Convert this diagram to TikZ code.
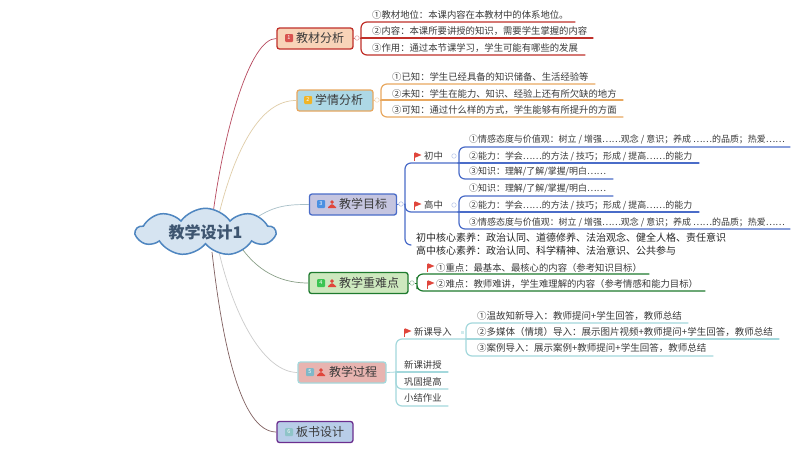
\documentclass[tikz,border=0pt]{standalone}
\usepackage{fontspec}
\setmainfont{Noto Sans CJK SC}
\usetikzlibrary{shapes.symbols}
\definecolor{txt}{HTML}{3A3A3A}
\definecolor{rd}{HTML}{C0302A}
\definecolor{og}{HTML}{E8A860}
\definecolor{bl}{HTML}{4A6CC8}
\definecolor{gn}{HTML}{1E7A2E}
\definecolor{te}{HTML}{A4D8DC}
\definecolor{pu}{HTML}{6B2F8F}
\definecolor{flagc}{HTML}{E0463C}
\definecolor{rootb}{HTML}{4F86C0}
\definecolor{rootf}{HTML}{D6E4F1}
\definecolor{roott}{HTML}{3E5570}
\definecolor{fa}{HTML}{F8D4B8}
\definecolor{fb}{HTML}{ADD8E6}
\definecolor{fc}{HTML}{C5C5E0}
\definecolor{fd}{HTML}{CDE8BE}
\definecolor{fe}{HTML}{E8B4B0}
\definecolor{ff}{HTML}{B8CDE8}
\definecolor{la}{HTML}{B84A60}
\definecolor{lb}{HTML}{E0CDA8}
\definecolor{lc}{HTML}{A8C0C8}
\definecolor{ld}{HTML}{8AA088}
\definecolor{le}{HTML}{CCCCCC}
\definecolor{lf}{HTML}{806060}
\definecolor{ba}{HTML}{D9534F}
\definecolor{bb}{HTML}{F0B429}
\definecolor{bc}{HTML}{4A90E2}
\definecolor{bd}{HTML}{3CC453}
\definecolor{be}{HTML}{7FB8C8}
\definecolor{bf}{HTML}{8FC4C8}
\newcommand{\personat}[1]{\fill[flagc] (#1) ++(0,-1.9) circle (1.9) (#1) ++(-4,4) -- ++(0,-1.5) to[out=-90,in=180] ++(4,-2.3) to[out=0,in=-90] ++(4,2.3) -- ++(0,1.5) -- cycle;}
\newcommand{\flagat}[1]{\draw[line width=.7pt,flagc] (#1) ++(-3.5,-3.5) -- ++(0,8); \fill[flagc] (#1) ++(-3.2,-3.8) -- ++(6.7,2.8) -- ++(-6.7,2.8) -- cycle;}
\tikzset{
  mainbox/.style={draw=#1,rounded corners=2.5pt,line width=1.3pt,minimum height=21pt,inner sep=0},
  mainlab/.style={anchor=west,inner sep=0,text=txt,font=\fontsize{12}{12}\selectfont},
  badge/.style={fill=#1,rounded corners=1pt,minimum size=8pt,inner sep=0,text=white,font=\fontsize{5.5}{5.5}\selectfont},
  item/.style={anchor=west,inner sep=0,text=txt,font=\fontsize{9.35}{9.35}\selectfont},
  itemb/.style={anchor=west,inner sep=0,text=txt,font=\fontsize{8.95}{8.95}\selectfont},
  core/.style={anchor=west,inner sep=0,text=black!85,font=\fontsize{10}{10}\selectfont},
  hub/.style={circle,draw=#1,fill=white,line width=.6pt,minimum size=4.5pt,inner sep=0},
  ln/.style={draw=#1,line width=1.2pt,line cap=round},
  rootlink/.style={draw=#1,line width=.7pt}
}
\begin{document}
\begin{tikzpicture}[x=1pt,y=-1pt]
\useasboundingbox[fill=white] (0,0) rectangle (800,450);
% root connectors first
\coordinate (r1) at (213,214);
\coordinate (r2) at (219,214);
\coordinate (r3) at (256,218);
\coordinate (r4) at (243,250);
\coordinate (r5) at (219,252);
\coordinate (r6) at (212,252);
% main boxes
\node[mainbox=rd,fill=fa,minimum width=76pt] (n1) at (315,38.5) {};
\node[mainbox=og,fill=fb,minimum width=76pt] (n2) at (335,100.5) {};
\node[mainbox=bl,fill=fc,minimum width=87pt] (n3) at (353,204.5) {};
\node[mainbox=gn,fill=fd,minimum width=99pt] (n4) at (358.5,283) {};
\node[mainbox=te,fill=fe,minimum width=88pt] (n5) at (342,372.5) {};
\node[mainbox=pu,fill=ff,minimum width=76pt] (n6) at (315,432) {};
\draw[rootlink=la] (r1) .. controls (224,130) and (250,38) .. (n1.west);
\draw[rootlink=lb] (r2) .. controls (235,150) and (260,100) .. (n2.west);
\draw[rootlink=lc] (r3) .. controls (275,205) and (290,204.5) .. (n3.west);
\draw[rootlink=ld] (r4) .. controls (262,275) and (285,283) .. (n4.west);
\draw[rootlink=le] (r5) .. controls (235,320) and (265,372) .. (n5.west);
\draw[rootlink=lf] (r6) .. controls (222,340) and (240,432) .. (n6.west);
% root
\node[cloud,cloud puffs=9,cloud puff arc=110,aspect=3.4,draw=rootb,fill=rootf,line width=1.5pt,minimum width=139pt,minimum height=43pt,inner sep=0,text=roott,font=\bfseries\fontsize{16}{16}\selectfont] (root) at (205.5,232) {教学设计1};
% badges and labels
\node[badge=ba] (b1) at (289,38) {1};
\node[mainlab] (l1) at (296,38) {教材分析};
\node[badge=bb] (b2) at (308,100) {2};
\node[mainlab] (l2) at (315,100) {学情分析};
\node[badge=bc] (b3) at (321,204) {3};
\personat{332,204}
\node[mainlab] (l3) at (339,204) {教学目标};
\node[badge=bd] (b4) at (321,283) {4};
\personat{332,283}
\node[mainlab] (l4) at (339,283) {教学重难点};
\node[badge=be] (b5) at (310,372) {5};
\personat{321,372}
\node[mainlab] (l5) at (329,372) {教学过程};
\node[badge=bf] (b6) at (289,432) {6};
\node[mainlab] (l6) at (296,432) {板书设计};
% branch 1
\coordinate (a1) at (575,22); \coordinate (a2) at (593,38); \coordinate (a3) at (585,55);
\coordinate (ax) at (361,38);
\draw[ln=rd,rounded corners=6pt] (a1) -| (ax) |- (a3);
\draw[ln=rd] (ax) -- (a2);
\node[hub=rd!40] (h1) at (357,38) {};
\draw[rd,line width=.8pt] (n1.east) -- (h1);
\draw[rd,line width=.8pt] (h1) -- (ax);
\node[item] (t11) at (372,15) {①教材地位：本课内容在本教材中的体系地位。};
\node[item] (t12) at (372,31.5) {②内容：本课所要讲授的知识，需要学生掌握的内容};
\node[item] (t13) at (372,48) {③作用：通过本节课学习，学生可能有哪些的发展};
% branch 2
\coordinate (c1) at (595,84); \coordinate (c2) at (623,100); \coordinate (c3) at (623,117);
\coordinate (cx) at (381,100);
\draw[ln=og,rounded corners=6pt] (c1) -| (cx) |- (c3);
\draw[ln=og] (cx) -- (c2);
\node[hub=og!40] (h2) at (377,100) {};
\draw[og,line width=.8pt] (n2.east) -- (h2);
\draw[og,line width=.8pt] (h2) -- (cx);
\node[item] (t21) at (392,77) {①已知：学生已经具备的知识储备、生活经验等};
\node[item] (t22) at (392,94) {②未知：学生在能力、知识、经验上还有所欠缺的地方};
\node[item] (t23) at (392,110) {③可知：通过什么样的方式，学生能够有所提升的方面};
% branch 3
\coordinate (d1) at (458,163); \coordinate (d2) at (458,212); \coordinate (d3) at (411,245);
\coordinate (dx) at (405,204);
\draw[ln=bl,rounded corners=6pt] (d1) -| (dx) |- (d3);
\draw[ln=bl,rounded corners=6pt] (dx) |- (d2);
\node[hub=bl!40] (h3) at (401,204) {};
\draw[bl,line width=.8pt] (n3.east) -- (h3);
\draw[bl,line width=.8pt] (h3) -- (dx);
\flagat{418,156}
\node[item] (t31) at (424,156) {初中};
\flagat{418,205}
\node[item] (t32) at (424,205) {高中};
\node[hub=bl!35] (h31) at (454,156) {};
\node[hub=bl!35] (h32) at (454,205) {};
% sub 1
\coordinate (e1) at (790,147); \coordinate (e2) at (699,163); \coordinate (e3) at (613,179);
\coordinate (ex) at (459,163);
\draw[ln=bl,rounded corners=6pt] (e1) -| (ex) |- (e3);
\draw[ln=bl] (d1) -- (e2);
\node[itemb] (s11) at (469,139) {①情感态度与价值观：树立 / 增强……观念 / 意识；养成 ……的品质；热爱……};
\node[itemb] (s12) at (469,156) {②能力：学会……的方法 / 技巧；形成 / 提高……的能力};
\node[itemb] (s13) at (469,172) {③知识：理解/了解/掌握/明白……};
% sub 2
\coordinate (f1) at (613,196); \coordinate (f2) at (699,212); \coordinate (f3) at (790,229);
\coordinate (fx) at (459,212);
\draw[ln=bl,rounded corners=6pt] (f1) -| (fx) |- (f3);
\draw[ln=bl] (d2) -- (f2);
\node[itemb] (s21) at (469,189) {①知识：理解/了解/掌握/明白……};
\node[itemb] (s22) at (469,205) {②能力：学会……的方法 / 技巧；形成 / 提高……的能力};
\node[itemb] (s23) at (469,222) {③情感态度与价值观：树立 / 增强……观念 / 意识；养成 ……的品质；热爱……};
\node[core] (k1) at (416,238) {初中核心素养：政治认同、道德修养、法治观念、健全人格、责任意识};
\node[core] (k2) at (416,251) {高中核心素养：政治认同、科学精神、法治意识、公共参与};
% branch 4
\coordinate (g1) at (649,274); \coordinate (g2) at (705,291);
\coordinate (gx) at (417,283);
\draw[ln=gn,rounded corners=6pt] (g1) -| (gx) |- (g2);
\node[hub=gn!40] (h4) at (412,283) {};
\draw[gn,line width=.8pt] (n4.east) -- (h4);
\draw[gn,line width=.8pt] (h4) -- (gx);
\flagat{431,267}
\node[item] (t41) at (436,267.5) {①重点：最基本、最核心的内容（参考知识目标）};
\flagat{431,284}
\node[item] (t42) at (436,284) {②难点：教师难讲，学生难理解的内容（参考情感和能力目标）};
% branch 5
\coordinate (hx) at (396,372);
\coordinate (j1) at (466,339); \coordinate (j2) at (448,372); \coordinate (j3) at (448,389); \coordinate (j4) at (448,406);
\draw[te,line width=.8pt] (n5.east) -- (hx);
\draw[ln=te,rounded corners=6pt] (j1) -| (hx) |- (j4);
\draw[ln=te] (hx) -- (j2);
\draw[ln=te,rounded corners=6pt] (hx) |- (j3);
\flagat{408,332}
\node[item] (t51) at (414,332) {新课导入};
\node[item] (t52) at (404,365) {新课讲授};
\node[item] (t53) at (404,382) {巩固提高};
\node[item] (t54) at (404,398) {小结作业};
\node[fill=te!50,minimum size=3pt,inner sep=0] (h51) at (462,332) {};
\coordinate (m1) at (688,323); \coordinate (m2) at (779,339); \coordinate (m3) at (713,356);
\coordinate (mx) at (466,339);
\draw[ln=te,rounded corners=6pt] (m1) -| (mx) |- (m3);
\draw[ln=te] (j1) -- (m2);
\begin{scope}[every node/.append style={font=\fontsize{9.5}{9.5}\selectfont}]
\node[item,font=\fontsize{9.5}{9.5}\selectfont] (u1) at (477,316) {①温故知新导入：教师提问+学生回答，教师总结};
\node[item,font=\fontsize{9.5}{9.5}\selectfont] (u2) at (477,332) {②多媒体（情境）导入：展示图片视频+教师提问+学生回答，教师总结};
\node[item,font=\fontsize{9.5}{9.5}\selectfont] (u3) at (477,348) {③案例导入：展示案例+教师提问+学生回答，教师总结};
\end{scope}
\end{tikzpicture}
\end{document}
